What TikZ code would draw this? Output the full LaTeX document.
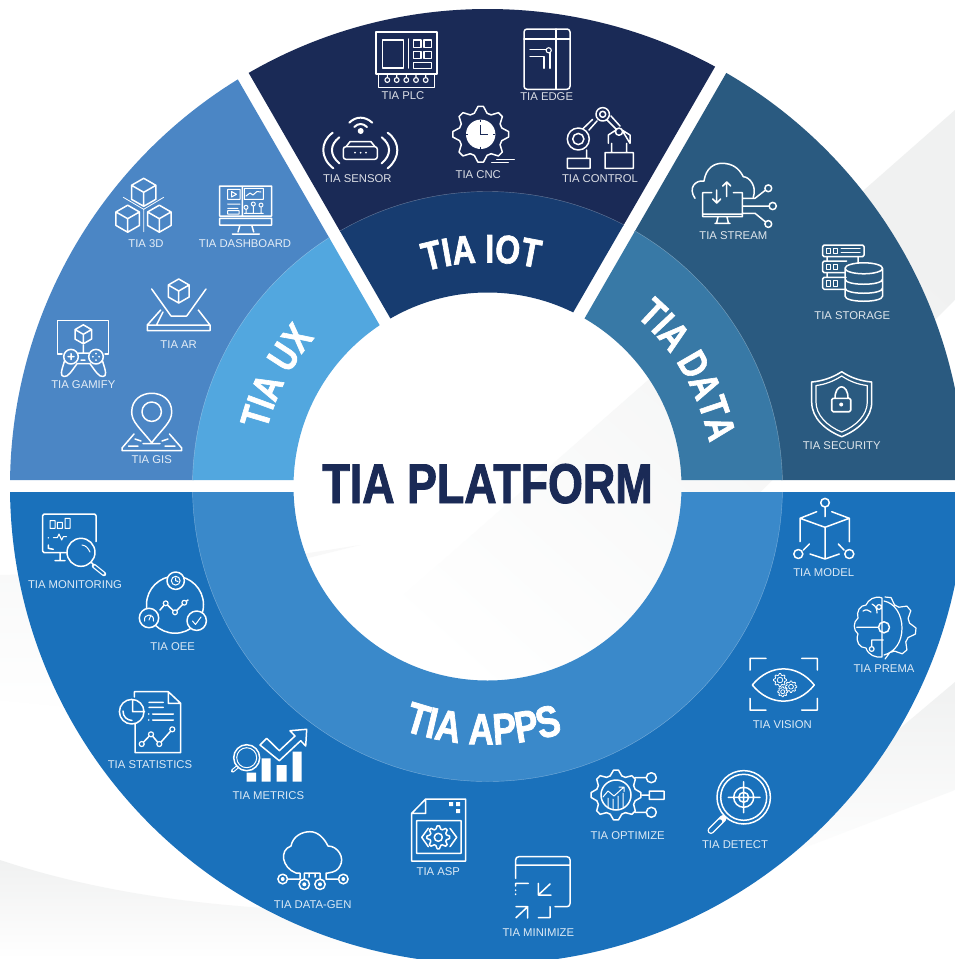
\documentclass[tikz,border=0pt]{standalone}
\usepackage{fontspec}
\setmainfont{Liberation Sans}
\newfontfamily\headfont[FakeStretch=0.8,FakeBold=1.6]{Liberation Sans}
\usetikzlibrary{decorations.text}
\definecolor{iotout}{HTML}{1A2A56}
\definecolor{iotin}{HTML}{173C70}
\definecolor{dataout}{HTML}{2A5A80}
\definecolor{datain}{HTML}{3879A6}
\definecolor{uxout}{HTML}{4B86C5}
\definecolor{uxin}{HTML}{52A7DF}
\definecolor{appsout}{HTML}{1A71BB}
\definecolor{appsin}{HTML}{3A89CA}
\definecolor{swoosh}{HTML}{F0F1F1}
\newcommand{\ringsector}[3]{\begin{scope}
\clip #1;
\fill[#2,even odd rule] (hub) circle[radius=477.5] (hub) circle[radius=294];
\fill[#3,even odd rule] (hub) circle[radius=295] (hub) circle[radius=194];
\draw[white,opacity=.35,line width=.4pt] (hub) circle[radius=295];
\end{scope}}
\newcommand{\ringtext}[4]{\path[decorate,decoration={text along path,text color=white,text align=center,
  text={|\headfont\bfseries\fontsize{#2}{#2}\selectfont|#1}}]
  plot[variable=\t,domain=#3,samples=70] ({487.5+#4*cos(\t)},{486.5-#4*sin(\t)});}
\newcommand{\cubeicon}[3]{\draw[ico] (#1,#2-#3) -- (#1+.87*#3,#2-.5*#3) -- (#1+.87*#3,#2+.5*#3) -- (#1,#2+#3)
  -- (#1-.87*#3,#2+.5*#3) -- (#1-.87*#3,#2-.5*#3) -- cycle
  (#1-.87*#3,#2-.5*#3) -- (#1,#2) -- (#1+.87*#3,#2-.5*#3) (#1,#2) -- (#1,#2+#3);}
\newcommand{\gearicon}[5][]{\draw[ico,#1] plot[variable=\t,domain=0:32,samples=33]
  ({#2+ifthenelse(mod(round(\t),4)<2,#4,#5)*cos(11.25*\t-5.6)},{#3+ifthenelse(mod(round(\t),4)<2,#4,#5)*sin(11.25*\t-5.6)}) -- cycle;}
\begin{document}
\begin{tikzpicture}[x=1pt,y=-1pt,
  ico/.style={draw=white,line width=1.5pt,line cap=round,line join=round},
  lbl/.style={text=white,text opacity=.85,font=\fontsize{11.3}{12}\selectfont,inner sep=0pt}]
\path[use as bounding box,clip] (0,0) rectangle (955,959);
\fill[white] (0,0) rectangle (955,959);
\coordinate (hub) at (487.5,486.5);
% background
\shade[left color=swoosh,right color=white,shading angle=-42] (955,110) -- (290,695) -- (560,690) -- (955,300) -- cycle;
\shade[top color=swoosh,bottom color=white] (955,682) -- (720,880) -- (955,790) -- cycle;
\shade[top color=swoosh,bottom color=white] (0,860) .. controls (90,890) and (190,905) .. (300,910) -- (520,959) -- (0,959) -- cycle;
\shade[top color=swoosh!50,bottom color=white] (0,575) -- (0,700) -- (200,720) -- (300,560) -- (360,545) -- (200,570) -- cycle;
% sectors
\ringsector{(0,0) -- (192,0) -- (469,480) -- (0,480) -- cycle}{uxout}{uxin}
\ringsector{(206.6,0) -- (753.6,0) -- (480,473.7) -- cycle}{iotout}{iotin}
\ringsector{(768.4,0) -- (491.25,480) -- (970,480) -- (970,0) -- cycle}{dataout}{datain}
\ringsector{(0,492.7) -- (970,492.7) -- (970,970) -- (0,970) -- cycle}{appsout}{appsin}
\node[anchor=base,inner sep=0pt,text=iotout,font=\headfont\bfseries\fontsize{56}{56}\selectfont] (platform) at (487.5,503) {TIA PLATFORM};
\ringtext{TIA IOT}{40}{151.5:31.5}{224}
\ringtext{TIA UX}{40}{215:90}{228}
\ringtext{TIA DATA}{40}{95:-35}{226}
\ringtext{TIA APPS}{44}{209:329}{258}
% iot
\draw[ico] (376,32) rectangle (437,74) (382.7,40) rectangle (403.3,68) (408.3,39) -- (408.3,68)
  (413.3,40) rectangle (421,47.3) (424,40) rectangle (431.7,47.3) (413.3,51.7) rectangle (421,58.3) (424,51.7) rectangle (431.7,58.3)
  (413.3,62.3) rectangle (431.7,68.3) (378.7,74) rectangle (434.3,87.3);
\foreach \cx in {387.3,396.7,406.3,416,425.7} \draw[ico,line width=1.1pt] (\cx,80) circle[radius=2.4] (\cx,74) -- (\cx,77.6);
\node[lbl] (plc) at (403,96) {TIA PLC};
\draw[ico,rounded corners=3pt] (524,29) rectangle (570,89.3);
\draw[ico] (524,39) -- (570,39) (556,29) -- (556,89.3) (530,49.3) -- (546,49.3) (530,56.7) -- (544,56.7) -- (544,68.3) (550,53) -- (550,68.3);
\draw[ico,line width=1.1pt] (548.7,50.3) circle[radius=2.6];
\node[lbl] (edge) at (546.7,96.7) {TIA EDGE};
\draw[ico,rounded corners=2.5pt] (343.3,146.7) rectangle (377.3,159.3);
\draw[ico] (346,146.7) -- (350,141.7) -- (371,141.7) -- (375,146.7);
\fill[white] (355,152.7) circle[radius=1] (360.7,152.7) circle[radius=1] (366,152.7) circle[radius=1] (360.7,131) circle[radius=3];
\draw[ico,line width=2pt] (349.3,122.7) .. controls (356,116) and (365,116) .. (372.3,122.7) (354.3,127) .. controls (358,123) and (363,123) .. (367,127)
  (332.7,132.7) .. controls (320,142) and (320,158) .. (333.3,168.3) (339.3,137.3) .. controls (329.5,145) and (329.5,155) .. (339.3,163.3)
  (381.7,137.3) .. controls (391.5,145) and (391.5,155) .. (381.7,163.3) (387.7,132.7) .. controls (400.5,142) and (400.5,158) .. (387.7,168.3);
\node[lbl] (sensor) at (357.3,178.3) {TIA SENSOR};
\gearicon{480.7}{134.3}{28}{22}
\fill[white] (480.7,134.3) circle[radius=14.7];
\draw[iotout,line width=1.4pt] (480.7,125) -- (480.7,134.3) -- (488,134.3) (480.7,120) -- (480.7,122) (480.7,146.6) -- (480.7,148.6) (466,134.3) -- (468,134.3) (493.4,134.3) -- (495.4,134.3);
\draw[ico,line width=1pt] (491.7,162.3) -- (508.3,162.3) (496.7,159.3) -- (514.3,159.3);
\node[lbl] (cnc) at (478.3,174.7) {TIA CNC};
\draw[ico] (567.3,158.3) rectangle (590,168.3) (586.7,150) -- (586.7,158) (578.3,139) circle[radius=11] (578.3,139) circle[radius=5.6]
  (602.7,114.3) circle[radius=6.7] (602.7,114.3) circle[radius=3] (619,131.7) circle[radius=3.6]
  (583.3,128.3) -- (592.7,119.3) (589,130) -- (597,121) (607,120) -- (616,129) (611,116) -- (620,126)
  (608.3,143.3) -- (608.3,135) -- (616,130) (622,130) -- (630,135) -- (630,143.3) -- cycle
  (611.7,143.3) -- (611.7,152.7) (626.7,143.3) -- (626.7,152.7) (605,152.7) rectangle (633.3,168.3);
\node[lbl] (control) at (600,178.3) {TIA CONTROL};
% ux
\cubeicon{143.7}{192.3}{14}
\cubeicon{127.7}{218.7}{13.5}
\cubeicon{159.3}{218.7}{13.5}
\draw[ico,line width=.8pt] (123.3,197.3) -- (143.7,209.3) -- (163.7,197.3) (143.7,209.3) -- (143.7,231.7);
\node[lbl] (threed) at (146,244) {TIA 3D};
\draw[ico] (219.7,186) rectangle (271.7,216) (219.7,218.3) -- (271.7,218.3) -- (271.7,225) -- (219.7,225) -- cycle
  (240,225) -- (238,232) (251.7,225) -- (253.7,232) (232.3,234) -- (259.3,234) (242.3,186) -- (242.3,216);
\draw[ico,line width=1pt] (227.7,189.3) rectangle (240,199.3) (231.5,191.5) -- (236.5,194.3) -- (231.5,197) -- cycle
  (227.7,204) -- (240,204) (227.7,208.3) -- (238,208.3) (227.7,210.7) rectangle (239,214) (244.3,188.3) rectangle (263.3,199.3)
  (246,196) -- (250,193) -- (253,195) -- (257,191.5) -- (261,192)
  (246,207.3) circle[radius=2] (253.3,204) circle[radius=2] (261,205) circle[radius=2]
  (246,209.3) -- (246,213.3) (253.3,206) -- (253.3,213.3) (261,207) -- (261,213.3) (244.3,213.3) -- (263.3,213.3);
\node[lbl] (dashboard) at (245,243.3) {TIA DASHBOARD};
\cubeicon{178.7}{291}{12}
\draw[ico] (151.7,289) -- (171,316) -- (186.7,316) -- (206,289)
  (160.7,310) -- (147.3,325) -- (147.3,330.7) -- (210,330.7) -- (210,325) -- (198.3,310) (147.3,325) -- (210,325) (156.5,325) -- (163,312);
\node[lbl] (ar) at (178.7,344.3) {TIA AR};
\draw[ico] (62,354) -- (57.7,354) -- (57.7,320.7) -- (108.3,320.7) -- (108.3,354) -- (105,354);
\cubeicon{83.3}{334.3}{9.5}
\draw[ico] (83.3,345) -- (83.3,352) (71,356.7) circle[radius=7.3] (96,356.7) circle[radius=7.3] (78.3,353) -- (88.7,353) (77,363.7) -- (90,363.7)
  (64.5,361) .. controls (61,372) and (60,376) .. (64,376.5) .. controls (68,377) and (71,372) .. (77,363.7)
  (102.5,361) .. controls (106,372) and (107,376) .. (103,376.5) .. controls (99,377) and (96,372) .. (90,363.7)
  (68,356.7) -- (74,356.7) (71,353.7) -- (71,359.7) (81,360) -- (85,360);
\fill[white] (96,353.5) circle[radius=1] (96,360) circle[radius=1] (92.8,356.7) circle[radius=1] (99.2,356.7) circle[radius=1];
\node[lbl] (gamify) at (83.3,384.3) {TIA GAMIFY};
\draw[ico] (151.7,442.7) .. controls (140,428) and (131.7,422) .. (131.7,412) .. controls (131.7,387) and (171.7,387) .. (171.7,412) .. controls (171.7,422) and (163,428) .. (151.7,442.7) -- cycle
  (151.7,411.7) circle[radius=9.7] (134,434) -- (122,448) -- (122,450.7) -- (181.7,450.7) -- (181.7,448) -- (169.5,434)
  (128.5,446) -- (138,446) (165,446) -- (175,446) (135,439) -- (141,441) (168,439) -- (162,441) (143,443.5) -- (160,443.5);
\node[lbl] (gis) at (151.7,460) {TIA GIS};
% data
\draw[ico] (695,198.3) .. controls (688,188) and (695,180) .. (704,181) .. controls (706,168) and (714,163.3) .. (722,163.3) .. controls (732,163.3) and (739,168) .. (743.3,176.7) .. controls (750,177) and (757,187) .. (753.3,197)
  (711.7,192.7) -- (702.7,192.7) -- (702.7,216.7) -- (742.3,216.7) -- (742.3,192.7) -- (733.3,192.7)
  (702.7,214) -- (742.3,214) (715,223.3) -- (730,223.3) (718,217) -- (716.5,223.3) (727,217) -- (728.5,223.3)
  (716.7,190) -- (716.7,203) (712.7,199) -- (716.7,203) -- (720.7,199) (726.7,182) -- (726.7,196.5) (722.7,186) -- (726.7,182) -- (730.7,186)
  (742.3,198.3) -- (755,198.3) -- (765,190.5) (742.3,206) -- (768.7,206) (742.3,213.3) -- (755,213.3) -- (765,221.5)
  (768.3,188.3) circle[radius=3.4] (772.7,206) circle[radius=3.6] (768.3,224) circle[radius=3.4];
\node[lbl] (stream) at (733.3,235.7) {TIA STREAM};
\draw[ico,rounded corners=1.5pt] (822.7,245) rectangle (864,256.7) (846.7,261) -- (822.7,261) -- (822.7,272.7) -- (845,272.7) (846,277.3) -- (822.7,277.3) -- (822.7,289.3) -- (845,289.3);
\draw[ico,line width=1pt] (826,248) rectangle (830,253) (833,248) rectangle (837,253) (826,264) rectangle (830,269.5) (833,264) rectangle (837,269.5) (826,280.5) rectangle (830,286) (833,280.5) rectangle (837,286)
  (841,248.5) -- (860,248.5) (841,252.5) -- (860,252.5);
\draw[ico] (863.8,268.3) ellipse[x radius=18.8,y radius=5.5] (845,268.3) -- (845,296) .. controls (845,303) and (882.6,303) .. (882.6,296) -- (882.6,268.3)
  (845,279) .. controls (845,286) and (882.6,286) .. (882.6,279) (845,288) .. controls (845,295) and (882.6,295) .. (882.6,288)
  (827,256.7) -- (827,261) (858,256.7) -- (858,262) (827,272.7) -- (827,277.3);
\node[lbl] (storage) at (852.3,315.3) {TIA STORAGE};
\draw[ico] (841.7,371.7) .. controls (832,378) and (822,381) .. (811.7,382) -- (811.7,402) .. controls (811.7,418) and (825,430) .. (841.7,436.7) .. controls (858,430) and (871.7,418) .. (871.7,402) -- (871.7,382) .. controls (861,381) and (851,378) .. (841.7,371.7) -- cycle;
\draw[ico,line width=1.2pt] (841.7,376) .. controls (833,381.5) and (825,384.5) .. (816,385.5) -- (816,402) .. controls (816,415) and (827,426) .. (841.7,432) .. controls (856,426) and (867.3,415) .. (867.3,402) -- (867.3,385.5) .. controls (858,384.5) and (850,381.5) .. (841.7,376) -- cycle;
\draw[ico,rounded corners=1.5pt,line width=1.6pt] (831.7,398.3) rectangle (850.7,411.7);
\draw[ico,line width=1.6pt] (835,398.3) .. controls (835,383) and (848,383) .. (848,398.3);
\fill[white] (841.2,404.5) circle[radius=2];
\node[lbl] (security) at (841.7,445.7) {TIA SECURITY};
% apps left
\draw[ico,rounded corners=1.5pt] (96,541.7) -- (96,514) -- (42.7,514) -- (42.7,552.7) -- (66.7,552.7);
\draw[ico] (60,552.7) -- (60,560.7) (55,560.7) -- (65,560.7) (81,552.3) circle[radius=14] (48.3,537.7) -- (48.3,537.9) (48.3,545) -- (48.3,548.3) -- (53.3,549.3) (91.3,562.5) -- (94,565);
\draw[ico,line width=4.5pt] (94,566) -- (104,574);
\draw[appsout,line width=2pt,line cap=round] (94.5,566.4) -- (103.5,573.6);
\draw[ico,line width=1pt] (50,520.7) rectangle (55,528.3) (57.3,522.3) rectangle (62.3,528.3) (65,518.3) rectangle (70,528.3)
  (53.3,537.7) -- (57.3,537.7) -- (59,534) -- (61.7,540) -- (63.3,536.7) -- (66.7,536.7) (82,545) .. controls (86,545.5) and (88,548) .. (90,552);
\node[lbl] (monitoring) at (75,585) {TIA MONITORING};
\draw[ico] (175,604.7) circle[radius=28.5];
\draw[ico,fill=appsout] (175.7,580.7) circle[radius=8.7] (149,618) circle[radius=9.7] (196.7,620.7) circle[radius=9.7];
\draw[ico,line width=1pt] (175.7,580.7) circle[radius=4.4] (175.7,578) -- (175.7,580.7) -- (178,581.5) (144.5,621) .. controls (143,613) and (155,613) .. (153.5,621) (149,620) -- (151,615) (192.5,621) -- (195.5,624.5) -- (201,617);
\draw[ico] (160,610) -- (165.7,603.3) -- (175,612.3) -- (184.3,602.7) -- (188,600);
\draw[ico,fill=appsout,line width=1.2pt] (165.7,603.3) circle[radius=2.4] (175,612.3) circle[radius=2.4] (184.3,602.7) circle[radius=2.4];
\node[lbl] (oee) at (172.7,646.7) {TIA OEE};
\draw[ico] (134.3,697) -- (134.3,691.7) -- (168.3,691.7) -- (180.7,703.3) -- (180.7,752.7) -- (135,752.7) -- (135,724)
  (168.3,691.7) -- (168.3,703.3) -- (180.7,703.3) (131.7,711.7) circle[radius=12.3]
  (132.7,700) -- (132.7,711.7) -- (144.5,711.7) (123,711) .. controls (123,717) and (127,720) .. (132,720.5)
  (149,702.3) -- (163.3,702.3) (149,707.3) -- (163.3,707.3) (152.7,714) -- (173.3,714) (152.7,720) -- (173.3,720)
  (141.7,744) -- (151,734.3) -- (159.3,744) -- (172.3,729.3);
\draw[ico,fill=appsout,line width=1.2pt] (141.7,744) circle[radius=2.5] (151,734.3) circle[radius=2.5] (159.3,744) circle[radius=2.5] (172.3,729.3) circle[radius=2.5];
\fill[white] (148.7,714) circle[radius=.9] (148.7,720) circle[radius=.9];
\node[lbl] (statistics) at (150,765) {TIA STATISTICS};
\fill[white] (246.7,772.7) rectangle (256,781.7) (261.7,758.3) rectangle (270.7,781.7) (276.7,765) rectangle (286.7,781.7) (292.7,751.7) rectangle (301.7,781.7);
\draw[ico,fill=appsout] (260,745) -- (266.7,738.3) -- (279.3,750.7) -- (295,736) -- (290,730.7) -- (306.7,729.3) -- (305.7,746) -- (300.7,740.7) -- (279.3,760.7) -- cycle;
\draw[ico,fill=appsout] (246.7,757.7) circle[radius=13];
\draw[ico,line width=1pt] (246.7,757.7) circle[radius=10];
\draw[ico,line width=3.6pt] (237.3,767) -- (232.5,771);
\draw[appsout,line width=1.4pt] (237,767.3) -- (233,770.6);
\node[lbl] (metrics) at (268.3,795.7) {TIA METRICS};
% apps bottom
\draw[ico] (296,873) .. controls (282,868) and (279,850) .. (291,846) .. controls (293,836) and (302,831.7) .. (310,831.7) .. controls (318,831.7) and (324,838) .. (328,846) .. controls (338,846) and (345,858) .. (340,866) .. controls (338,870) and (335,872) .. (328,873)
  (287.5,879) -- (300,879) -- (300,873) (296,873) -- (300,873) (304.3,879) -- (304.3,873) -- (320,873) -- (320,879) (338.5,879) -- (326,879) -- (326,873) -- (328,873) (309,873) -- (309,877) (315,873) -- (315,877);
\draw[ico,fill=appsout] (282.7,879) circle[radius=4.8] (304.3,884.3) circle[radius=5.2] (320,884.3) circle[radius=5.2] (343.3,879) circle[radius=4.8];
\fill[white] (282.7,879) circle[radius=2] (304.3,884.3) circle[radius=2] (320,884.3) circle[radius=2] (343.3,879) circle[radius=2];
\node[lbl] (datagen) at (312.7,904.3) {TIA DATA-GEN};
\draw[ico] (425.7,799) -- (465.7,799) -- (465.7,861) -- (411.7,861) -- (411.7,813.3) -- cycle (425.7,799) -- (425.7,813.3) -- (411.7,813.3) (416.7,820.7) rectangle (461,853.3)
  (428.3,828.3) -- (421.7,837.3) -- (428.3,846.7) (450,828.3) -- (456.7,837.3) -- (450,846.7) (438.3,837.3) circle[radius=4];
\gearicon{438.3}{837.3}{11.5}{8.5}
\fill[white] (449,802) rectangle (453,806) (456,802) rectangle (460,806) (456,809) rectangle (460,813);
\node[lbl] (asp) at (438.3,871.7) {TIA ASP};
\draw[ico,rounded corners=3pt] (515.7,878.3) -- (515.7,856.7) -- (570,856.7) -- (570,906.7) -- (555,906.7);
\draw[ico] (515.7,865) -- (570,865) (550,884) -- (538.3,895) (538.3,883.3) -- (538.3,895) -- (551,895) (527.7,906.7) -- (516,917.7) (516,906.7) -- (527.7,906.7) -- (527.7,918)
  (515.7,886) -- (515.7,883.3) -- (528.3,883.3) (550,906.7) -- (550,917.7) -- (538.3,917.7) (515.7,890) -- (515.7,890.5) (515.7,894) -- (515.7,894.5);
\node[lbl] (minimize) at (538.3,932.3) {TIA MINIMIZE};
\gearicon{616}{795}{25}{20}
\draw[ico] (616,795) circle[radius=15] (635,777.7) -- (646,777.7) (635,812.3) -- (646,812.3) (641.7,795) -- (649.3,795) (651.3,777.7) circle[radius=5] (651.3,812.3) circle[radius=5] (649.3,791) rectangle (664,799.3);
\draw[ico,line width=1pt] (603,797) -- (608,791) -- (614,796) -- (624,787) (619,787) -- (624,787) -- (624,791.5) (608,798) -- (608,808) (613,799) -- (613,809) (618,796) -- (618,809) (623,793) -- (623,807);
\node[lbl] (optimize) at (627.7,835.7) {TIA OPTIMIZE};
% apps right
\draw[ico] (743.7,797.3) circle[radius=26.7] (743.7,797.3) circle[radius=23] (728.3,797.3) -- (760,797.3) (743.7,781.7) -- (743.7,812.7) (743.7,797.3) circle[radius=10] (743.7,797.3) circle[radius=5];
\draw[ico,line width=7pt] (723,818.5) -- (711,830.5);
\draw[appsout,line width=4.2pt,line cap=round] (720,821.5) -- (711,830.5);
\node[lbl] (detect) at (735,845) {TIA DETECT};
\draw[ico] (750,670) -- (750,658.3) -- (766,658.3) (801.7,658.3) -- (817.3,658.3) -- (817.3,670) (750,698.3) -- (750,710) -- (766,710) (801.7,710) -- (817.3,710) -- (817.3,698.3)
  (752.3,685) .. controls (770,663.5) and (797,663.5) .. (814.3,685) .. controls (797,706.5) and (770,706.5) .. (752.3,685) -- cycle;
\begin{scope}[ico/.append style={line width=.8pt}]
\gearicon{780}{680}{6.5}{5}
\gearicon{791}{686.7}{5.8}{4.4}
\gearicon{782.7}{691.7}{5}{3.8}
\draw[ico] (780,680) circle[radius=2.8] (791,686.7) circle[radius=2.4] (782.7,691.7) circle[radius=2];
\end{scope}
\node[lbl] (vision) at (782.3,725) {TIA VISION};
\draw[ico,line width=1.2pt] plot[variable=\t,domain=0:16,samples=17] ({885+ifthenelse(mod(round(\t),4)<2,31,25)*cos(11.25*\t-90)},{628+ifthenelse(mod(round(\t),4)<2,31,25)*sin(11.25*\t-90)})
  (882,598) .. controls (875,595) and (868,600) .. (866,605) .. controls (860,605) and (856,612) .. (858,618) .. controls (853,622) and (853,630) .. (858,634) .. controls (855,642) and (860,648) .. (866,648) .. controls (868,655) and (876,658) .. (882,657) -- (882,598)
  (884,601) .. controls (895,603) and (902,615) .. (902,628) .. controls (902,642) and (895,652) .. (884,655)
  (856.7,627.3) -- (878.7,627.3) (871.7,646.7) -- (871.7,640) -- (883.3,640) (872,604) .. controls (876,606) and (877,609) .. (877,613) (863,611) .. controls (866,609) and (869,610) .. (871,612) (879,607) circle[radius=2.4] (871.7,649) circle[radius=2.4];
\draw[ico] (884,627.3) circle[radius=5.5];
\node[lbl] (prema) at (884,668.3) {TIA PREMA};
\draw[ico] (800,541.7) -- (800,518.3) -- (825,527.3) -- (849.3,518.3) -- (849.3,541.7) (800,518.3) -- (816.7,511.7) (849.3,518.3) -- (831.7,511.7) (825,507) -- (825,516.7) (825,527.3) -- (825,558.3) (810,554) -- (825,559) -- (839.3,554) (803.3,550) -- (809.3,544) (844,550) -- (838.3,544)
  (825,502.7) circle[radius=4.3] (798.3,554) circle[radius=4.5] (849.3,554) circle[radius=4.5];
\node[lbl] (model) at (823.7,572.3) {TIA MODEL};
\end{tikzpicture}
\end{document}
